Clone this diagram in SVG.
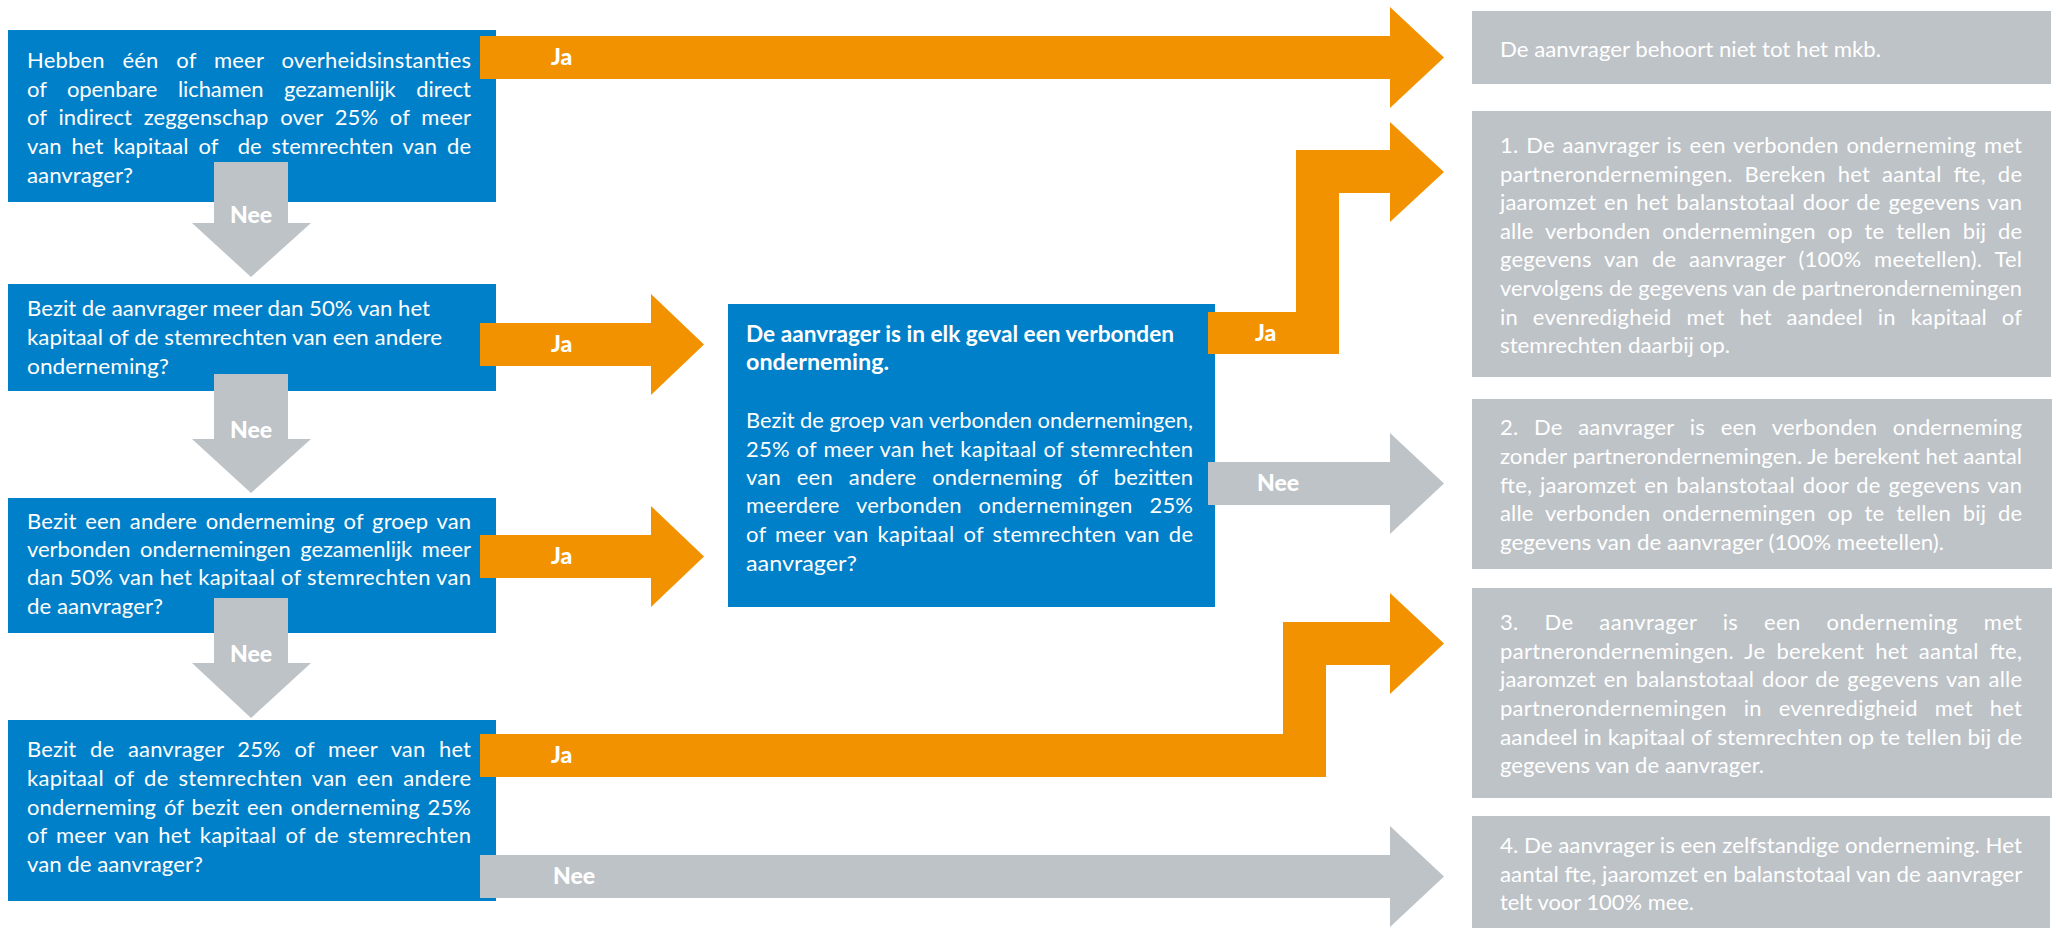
<svg xmlns="http://www.w3.org/2000/svg" width="2056" height="952" viewBox="0 0 2056 952">
<style>
.bb{fill:#0080C9}
.bg{fill:#BEC3C7}
.ao{fill:#F39200}
.ag{fill:#BEC3C7}
.t{font-family:Lato,"Open Sans","Liberation Sans",sans-serif;font-size:22px;fill:#FFFFFF}
.tb{font-weight:700}
.lbl{font-family:Lato,"Open Sans","Liberation Sans",sans-serif;font-weight:900;font-size:23px;fill:#FFFFFF}
</style>
<rect width="2056" height="952" fill="#FFFFFF"/>

<g id="q1">
<rect class="bb" x="8" y="30" width="488" height="172"/>
<text class="t">
<tspan x="27" y="68" textLength="444" lengthAdjust="spacing" style="word-spacing:12px">Hebben één of meer overheidsinstanties</tspan>
<tspan x="27" y="97" textLength="444" lengthAdjust="spacing" style="word-spacing:15px">of openbare lichamen gezamenlijk direct</tspan>
<tspan x="27" y="125" textLength="444" lengthAdjust="spacing" style="word-spacing:6px">of indirect zeggenschap over 25% of meer</tspan>
<tspan x="27" y="154" textLength="444" lengthAdjust="spacing" style="word-spacing:4px;white-space:pre">van het kapitaal of  de stemrechten van de</tspan>
<tspan x="27" y="183" textLength="106" lengthAdjust="spacingAndGlyphs">aanvrager?</tspan>
</text>
</g>

<g id="q2">
<rect class="bb" x="8" y="284" width="488" height="107"/>
<text class="t">
<tspan x="27" y="316" textLength="403" lengthAdjust="spacingAndGlyphs">Bezit de aanvrager meer dan 50% van het</tspan>
<tspan x="27" y="345" textLength="415" lengthAdjust="spacingAndGlyphs">kapitaal of de stemrechten van een andere</tspan>
<tspan x="27" y="374" textLength="142" lengthAdjust="spacingAndGlyphs">onderneming?</tspan>
</text>
</g>

<g id="q3">
<rect class="bb" x="8" y="498" width="488" height="135"/>
<text class="t">
<tspan x="27" y="529" textLength="444" lengthAdjust="spacing" style="word-spacing:3px">Bezit een andere onderneming of groep van</tspan>
<tspan x="27" y="557" textLength="444" lengthAdjust="spacing" style="word-spacing:4px">verbonden ondernemingen gezamenlijk meer</tspan>
<tspan x="27" y="585" textLength="444" lengthAdjust="spacing">dan 50% van het kapitaal of stemrechten van</tspan>
<tspan x="27" y="614" textLength="136" lengthAdjust="spacingAndGlyphs">de aanvrager?</tspan>
</text>
</g>

<g id="q4">
<rect class="bb" x="8" y="720" width="488" height="181"/>
<text class="t">
<tspan x="27" y="757" textLength="444" lengthAdjust="spacing" style="word-spacing:8px">Bezit de aanvrager 25% of meer van het</tspan>
<tspan x="27" y="786" textLength="444" lengthAdjust="spacing" style="word-spacing:4px">kapitaal of de stemrechten van een andere</tspan>
<tspan x="27" y="815" textLength="444" lengthAdjust="spacing" style="word-spacing:2px">onderneming óf bezit een onderneming 25%</tspan>
<tspan x="27" y="843" textLength="444" lengthAdjust="spacing" style="word-spacing:3px">of meer van het kapitaal of de stemrechten</tspan>
<tspan x="27" y="872" textLength="176" lengthAdjust="spacingAndGlyphs">van de aanvrager?</tspan>
</text>
</g>

<g id="verbonden">
<rect class="bb" x="728" y="304" width="487" height="303"/>
<text class="t tb">
<tspan x="746" y="342" textLength="428" lengthAdjust="spacingAndGlyphs">De aanvrager is in elk geval een verbonden</tspan>
<tspan x="746" y="370" textLength="143" lengthAdjust="spacingAndGlyphs">onderneming.</tspan>
</text>
<text class="t">
<tspan x="746" y="428" textLength="447" lengthAdjust="spacingAndGlyphs">Bezit de groep van verbonden ondernemingen,</tspan>
<tspan x="746" y="457" textLength="447" lengthAdjust="spacing" style="word-spacing:1px">25% of meer van het kapitaal of stemrechten</tspan>
<tspan x="746" y="485" textLength="447" lengthAdjust="spacing" style="word-spacing:10px">van een andere onderneming óf bezitten</tspan>
<tspan x="746" y="513" textLength="447" lengthAdjust="spacing" style="word-spacing:11px">meerdere verbonden ondernemingen 25%</tspan>
<tspan x="746" y="542" textLength="447" lengthAdjust="spacing" style="word-spacing:3px">of meer van kapitaal of stemrechten van de</tspan>
<tspan x="746" y="571" textLength="111" lengthAdjust="spacingAndGlyphs">aanvrager?</tspan>
</text>
</g>

<g id="r0">
<rect class="bg" x="1472" y="11" width="579" height="73"/>
<text class="t"><tspan x="1500" y="57" textLength="381" lengthAdjust="spacingAndGlyphs">De aanvrager behoort niet tot het mkb.</tspan></text>
</g>

<g id="r1">
<rect class="bg" x="1472" y="111" width="579" height="266"/>
<text class="t">
<tspan x="1500" y="153" textLength="522" lengthAdjust="spacing" style="word-spacing:2px">1. De aanvrager is een verbonden onderneming met</tspan>
<tspan x="1500" y="182" textLength="522" lengthAdjust="spacing" style="word-spacing:6px">partnerondernemingen. Bereken het aantal fte, de</tspan>
<tspan x="1500" y="210" textLength="522" lengthAdjust="spacing" style="word-spacing:2px">jaaromzet en het balanstotaal door de gegevens van</tspan>
<tspan x="1500" y="239" textLength="522" lengthAdjust="spacing" style="word-spacing:6px">alle verbonden ondernemingen op te tellen bij de</tspan>
<tspan x="1500" y="267" textLength="522" lengthAdjust="spacing" style="word-spacing:7px">gegevens van de aanvrager (100% meetellen). Tel</tspan>
<tspan x="1500" y="296" textLength="522" lengthAdjust="spacingAndGlyphs">vervolgens de gegevens van de partnerondernemingen</tspan>
<tspan x="1500" y="325" textLength="522" lengthAdjust="spacing" style="word-spacing:9px">in evenredigheid met het aandeel in kapitaal of</tspan>
<tspan x="1500" y="353" textLength="230" lengthAdjust="spacingAndGlyphs">stemrechten daarbij op.</tspan>
</text>
</g>

<g id="r2">
<rect class="bg" x="1472" y="399" width="580" height="170"/>
<text class="t">
<tspan x="1500" y="435" textLength="522" lengthAdjust="spacing" style="word-spacing:10px">2. De aanvrager is een verbonden onderneming</tspan>
<tspan x="1500" y="464" textLength="522" lengthAdjust="spacingAndGlyphs">zonder partnerondernemingen. Je berekent het aantal</tspan>
<tspan x="1500" y="493" textLength="522" lengthAdjust="spacing" style="word-spacing:2px">fte, jaaromzet en balanstotaal door de gegevens van</tspan>
<tspan x="1500" y="521" textLength="522" lengthAdjust="spacing" style="word-spacing:6px">alle verbonden ondernemingen op te tellen bij de</tspan>
<tspan x="1500" y="550" textLength="444" lengthAdjust="spacingAndGlyphs">gegevens van de aanvrager (100% meetellen).</tspan>
</text>
</g>

<g id="r3">
<rect class="bg" x="1472" y="588" width="580" height="210"/>
<text class="t">
<tspan x="1500" y="630" textLength="522" lengthAdjust="spacing" style="word-spacing:20px">3. De aanvrager is een onderneming met</tspan>
<tspan x="1500" y="659" textLength="522" lengthAdjust="spacing" style="word-spacing:5px">partnerondernemingen. Je berekent het aantal fte,</tspan>
<tspan x="1500" y="687" textLength="522" lengthAdjust="spacing" style="word-spacing:2px">jaaromzet en balanstotaal door de gegevens van alle</tspan>
<tspan x="1500" y="716" textLength="522" lengthAdjust="spacing" style="word-spacing:11px">partnerondernemingen in evenredigheid met het</tspan>
<tspan x="1500" y="745" textLength="522" lengthAdjust="spacingAndGlyphs">aandeel in kapitaal of stemrechten op te tellen bij de</tspan>
<tspan x="1500" y="773" textLength="264" lengthAdjust="spacingAndGlyphs">gegevens van de aanvrager.</tspan>
</text>
</g>

<g id="r4">
<rect class="bg" x="1472" y="816" width="578" height="112"/>
<text class="t">
<tspan x="1500" y="853" textLength="522" lengthAdjust="spacingAndGlyphs">4. De aanvrager is een zelfstandige onderneming. Het</tspan>
<tspan x="1500" y="882" textLength="522" lengthAdjust="spacingAndGlyphs">aantal fte, jaaromzet en balanstotaal van de aanvrager</tspan>
<tspan x="1500" y="910" textLength="194" lengthAdjust="spacingAndGlyphs">telt voor 100% mee.</tspan>
</text>
</g>

<g id="connectors">
<polygon class="ag" points="214,162 288,162 288,223 311,223 251,277 192,223 214,223"/>
<text class="lbl" x="251" y="223" text-anchor="middle">Nee</text>
<polygon class="ag" points="214,374 288,374 288,439 311,439 251,493 192,439 214,439"/>
<text class="lbl" x="251" y="438" text-anchor="middle">Nee</text>
<polygon class="ag" points="214,598 288,598 288,663 311,663 251,718 192,663 214,663"/>
<text class="lbl" x="251" y="662" text-anchor="middle">Nee</text>

<polygon class="ao" points="480,36 1390,36 1390,7 1444,57.5 1390,108 1390,79 480,79"/>
<text class="lbl" x="551" y="65">Ja</text>
<polygon class="ao" points="480,323 651,323 651,294 704,344.5 651,395 651,366 480,366"/>
<text class="lbl" x="551" y="352">Ja</text>
<polygon class="ao" points="480,535 651,535 651,506 704,556.5 651,607 651,578 480,578"/>
<text class="lbl" x="551" y="564">Ja</text>
<polygon class="ao" points="480,734 1283,734 1283,622 1390,622 1390,593 1444,643.5 1390,694 1390,665 1326,665 1326,777 480,777"/>
<text class="lbl" x="551" y="763">Ja</text>
<polygon class="ag" points="480,855 1390,855 1390,826 1444,876.5 1390,927 1390,898 480,898"/>
<text class="lbl" x="553" y="884">Nee</text>

<polygon class="ao" points="1208,312 1296,312 1296,150 1390,150 1390,122 1444,172 1390,222 1390,193 1339,193 1339,354 1208,354"/>
<text class="lbl" x="1255" y="341">Ja</text>
<polygon class="ag" points="1208,462 1390,462 1390,433 1444,483.5 1390,534 1390,505 1208,505"/>
<text class="lbl" x="1257" y="491">Nee</text>
</g>
</svg>
